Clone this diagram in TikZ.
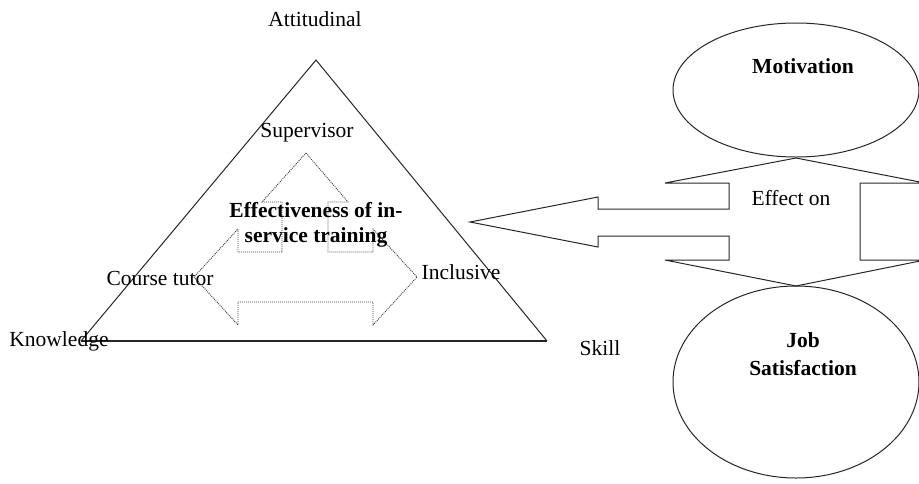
\documentclass[tikz,border=0pt]{standalone}
\usepackage{fontspec}
\setmainfont{Liberation Serif}
\usetikzlibrary{shapes.geometric}

\begin{document}
\begin{tikzpicture}[x=1pt, y=-1pt,
    lbl/.style={font=\fontsize{21.5}{25}\selectfont, anchor=base, inner sep=0pt},
    boldlbl/.style={lbl, font=\fontsize{21.5}{25}\selectfont\bfseries, align=center},
    outline/.style={draw=black!85, line width=1pt, line join=miter},
    guide/.style={draw=black!75, line width=0.9pt, dash pattern=on 1pt off 1pt}]
    \useasboundingbox (0,0) rectangle (919,483);
    \clip (0,0) rectangle (919,483);

    % Triangle
    \coordinate (apex) at (316,60);
    \coordinate (baseL) at (81,341);
    \coordinate (baseR) at (547,341);
    \draw[outline] (baseL) -- (apex) -- (baseR);
    \draw[outline, line width=1.8pt] (baseL) -- (baseR);

    % Three-way dotted arrow inside
    \draw[guide] (306,153) -- (348,202) -- (328,202) -- (328,252) -- (373,252)
        -- (373,229) -- (417,277) -- (373,325) -- (373,302) -- (238,302)
        -- (238,325) -- (194,277) -- (238,229) -- (238,252) -- (282,252)
        -- (282,202) -- (262,202) -- cycle;

    % Up-down arrow with the branch pointing left
    \draw[outline] (796,158) -- (925,183) -- (860,183) -- (860,260) -- (925,260)
        -- (796,286) -- (665,260) -- (729,260) -- (729,236) -- (598,236)
        -- (598,247) -- (470,222) -- (598,197) -- (598,209) -- (729,209)
        -- (729,183) -- (665,183) -- cycle;

    % Ellipses
    \node[outline, ellipse, minimum width=246pt, minimum height=134pt] (motivation) at (796,90) {};
    \node[outline, ellipse, minimum width=246pt, minimum height=192pt] (jobsat) at (796,382) {};

    % Corner labels
    \node[lbl] (attitudinal) at (315,26) {Attitudinal};
    \node[lbl] (knowledge) at (59,346) {Knowledge};
    \node[lbl] (skill) at (600,355) {Skill};

    % Labels inside the triangle (base = last line)
    \node[lbl] (supervisor) at (307,137) {Supervisor};
    \node[lbl] (tutor) at (160,285) {Course tutor};
    \node[lbl] (inclusive) at (461,279) {Inclusive};
    \node[boldlbl] (training) at (316,242) {Effectiveness of in-\\service training};

    % Labels on the right
    \node[lbl] (effect) at (791,205) {Effect on};
    \node[boldlbl] (motivtext) at (803,73) {Motivation};
    \node[boldlbl, font=\fontsize{21.5}{28}\selectfont\bfseries] (jobtext) at (803,375) {Job\\Satisfaction};
\end{tikzpicture}
\end{document}
